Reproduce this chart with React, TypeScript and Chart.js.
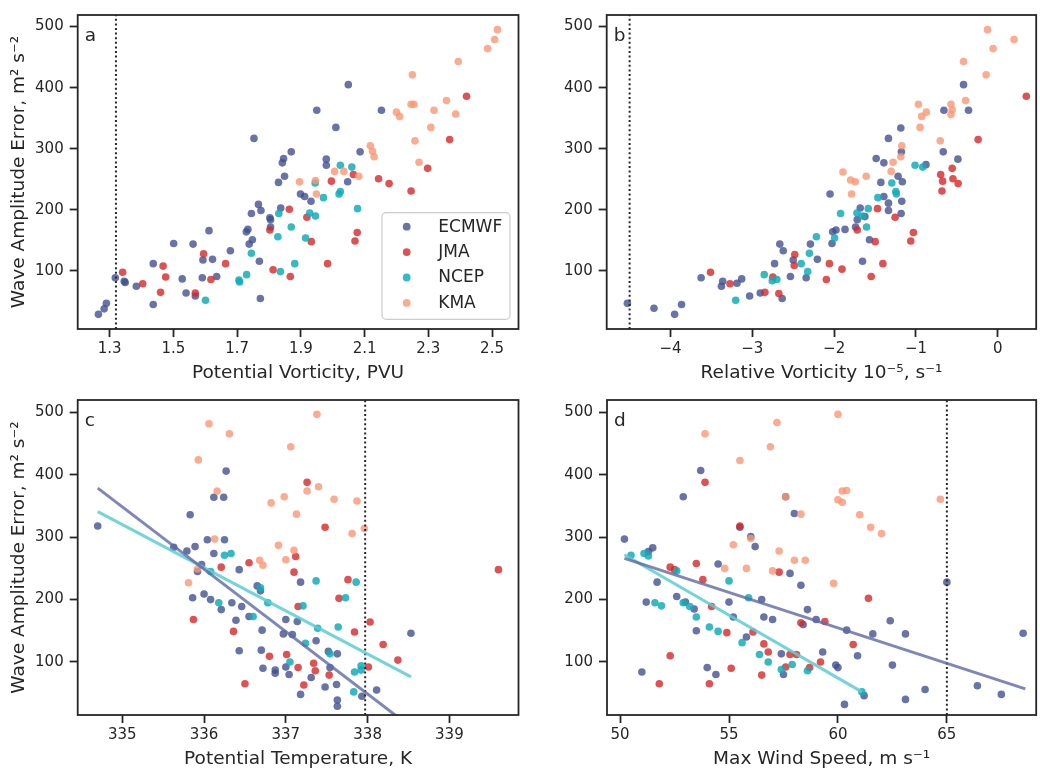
import React, { useEffect, useRef } from "react";
import { Chart, registerables } from "chart.js";
Chart.register(...registerables);

type Pt = [number, number];

const FONT = "'DejaVu Sans', 'Liberation Sans', sans-serif";
const INK = "#262626";

const MODELS = ["ECMWF", "JMA", "NCEP", "KMA"];
const COLORS = ["rgba(62,77,142,0.78)", "rgba(214,39,40,0.8)", "rgba(18,173,185,0.85)", "rgba(250,150,115,0.8)"];
const FIT_COLORS = ["rgba(95,105,165,0.8)", "rgba(90,205,212,0.85)"];

const yTicks = [100, 200, 300, 400, 500];
const pvTicks = [1.3, 1.5, 1.7, 1.9, 2.1, 2.3, 2.5];
const rvTicks = [-4, -3, -2, -1, 0];
const ptTicks = [335, 336, 337, 338, 339];
const wsTicks = [50, 55, 60, 65];

// Panel a: potential vorticity (PVU) vs wave amplitude error
const pvEcmwf: Pt[] = [[1.265,29],[1.283,38],[1.29,47],[1.318,89],[1.346,83],[1.349,81],[1.384,75],[1.437,112],[1.437,45],[1.501,145],[1.528,87],[1.54,64],[1.562,144],[1.569,59],[1.593,118],[1.591,89],[1.612,166],[1.623,119],[1.636,91],[1.679,133],[1.729,164],[1.734,168],[1.738,144],[1.748,151],[1.745,194],[1.767,209],[1.775,199],[1.77,116],[1.773,55],[1.803,187],[1.805,184],[1.805,172],[1.837,203],[1.83,245],[1.849,255],[1.842,277],[1.846,284],[1.87,295],[1.753,317],[1.95,363],[1.899,226],[1.912,222],[1.932,214],[1.98,283],[1.98,273],[2.01,335],[2.049,405],[2.086,295],[2.047,246],[2.153,363]];
const pvJma: Pt[] = [[1.341,98],[1.404,79],[1.468,108],[1.476,90],[1.46,65],[1.569,64],[1.595,128],[1.618,86],[1.664,112],[1.803,167],[1.813,102],[1.864,201],[1.867,91],[1.919,188],[1.933,148],[1.984,112],[1.996,247],[2.065,258],[2.144,251],[2.177,243],[2.246,231],[2.298,268],[2.367,315],[2.42,386],[2.077,163],[2.07,149]];
const pvNcep: Pt[] = [[1.601,52],[1.706,85],[1.708,82],[1.73,94],[1.745,129],[1.831,194],[1.828,156],[1.836,99],[1.87,172],[1.881,112],[1.945,244],[1.971,220],[1.928,195],[1.946,190],[1.915,154],[2.024,273],[2.06,270],[2.024,230],[2.02,226],[2.078,202]];
const pvKma: Pt[] = [[1.896,246],[1.946,248],[1.949,226],[2.517,495],[2.508,479],[2.486,464],[2.394,443],[2.25,421],[2.246,373],[2.255,373],[2.2,360],[2.21,353],[2.318,363],[2.357,379],[2.386,357],[2.308,335],[2.258,313],[2.118,305],[2.125,296],[2.13,287],[2.271,278],[2.006,263],[2.035,263],[2.082,255]];

// Panel b: relative vorticity
const rvEcmwf: Pt[] = [[-0.418,405],[-0.658,363],[-0.357,363],[-1.185,334],[-1.336,317],[-1.178,295],[-0.666,295],[-1.486,284],[-1.392,277],[-0.487,283],[-0.877,274],[-1.218,255],[-1.166,246],[-1.429,245],[-2.05,226],[-1.392,222],[-1.336,211],[-1.173,214],[-1.336,199],[-1.681,203],[-1.624,189],[-1.717,184],[-1.738,172],[-1.181,194],[-1.867,168],[-1.977,167],[-2.018,164],[-2.026,145],[-2.29,144],[-2.205,119],[-2.342,89],[-1.568,151],[-1.653,116],[-4.527,47],[-4.202,39],[-3.95,29],[-3.865,45],[-3.626,89],[-3.362,83],[-3.378,75],[-3.188,80],[-3.13,87],[-3.033,59],[-2.903,64],[-2.635,55],[-2.534,91],[-2.728,112],[-2.5,118],[-2.664,144],[-2.622,133]];
const rvJma: Pt[] = [[0.349,386],[-0.24,315],[-0.557,268],[-0.698,258],[-0.548,251],[-0.674,247],[-0.484,243],[-0.682,231],[-1.47,202],[-1.255,188],[-1.717,167],[-1.031,163],[-1.063,149],[-2.058,112],[-1.904,103],[-2.095,86],[-1.498,148],[-1.404,112],[-1.547,91],[-3.511,98],[-3.273,79],[-2.846,65],[-2.676,63],[-2.749,90],[-2.488,109],[-2.481,127]];
const rvNcep: Pt[] = [[-1.011,273],[-0.917,270],[-1.295,244],[-1.246,230],[-1.239,226],[-1.465,220],[-1.583,202],[-1.921,194],[-1.721,195],[-1.653,190],[-1.604,172],[-1.994,154],[-2.217,156],[-2.302,129],[-2.403,112],[-2.323,99],[-3.203,52],[-2.854,94],[-2.756,84],[-2.7,86]];
const rvKma: Pt[] = [[-0.125,495],[0.199,479],[-0.057,464],[-0.418,443],[-0.142,421],[-0.97,373],[-0.572,373],[-0.557,364],[-0.572,356],[-0.873,360],[-0.93,353],[-0.393,379],[-0.95,335],[-0.703,313],[-1.173,305],[-1.185,287],[-1.279,278],[-1.892,262],[-1.303,263],[-1.799,249],[-1.742,246],[-1.608,255],[-1.787,226]];

// Panel c: potential temperature
const ptEcmwf: Pt[] = [[334.7,318],[336.27,406],[336.12,364],[336.24,364],[335.83,336],[336.04,296],[336.25,296],[335.63,284],[335.79,278],[335.89,285],[336.12,274],[335.97,256],[335.92,245],[336.43,248],[337.18,228],[335.86,203],[336.0,209],[336.08,200],[336.21,184],[336.34,195],[336.46,189],[336.39,167],[336.55,173],[336.65,222],[336.69,214],[336.71,151],[336.43,118],[336.7,119],[336.72,90],[336.87,87],[336.87,82],[337.0,168],[336.97,145],[337.08,144],[337.0,92],[337.04,80],[337.18,48],[337.14,165],[338.53,146],[337.37,134],[337.52,117],[337.63,113],[337.54,91],[337.31,75],[337.48,60],[337.62,64],[337.63,39],[337.63,29],[337.93,45],[338.11,55]];
const ptJma: Pt[] = [[336.21,252],[336.55,259],[337.26,388],[337.48,316],[337.12,269],[337.1,244],[339.6,248],[337.76,232],[335.87,168],[336.36,149],[336.8,109],[336.5,65],[337.01,112],[337.15,91],[337.65,202],[337.15,189],[338.03,164],[337.84,148],[338.19,128],[338.37,103],[337.34,98],[337.36,86],[337.53,79],[338.01,92],[337.22,63]];
const ptNcep: Pt[] = [[336.25,271],[336.33,274],[336.08,245],[337.37,230],[337.86,228],[336.18,195],[336.6,173],[336.69,219],[336.78,195],[337.05,100],[337.73,203],[337.21,190],[337.39,154],[337.64,156],[337.24,130],[337.54,113],[337.92,94],[337.84,84],[337.92,87],[337.83,52]];
const ptKma: Pt[] = [[336.06,482],[336.31,466],[335.93,424],[336.16,374],[336.13,297],[335.92,249],[336.68,263],[337.38,497],[337.06,445],[337.26,374],[337.4,381],[336.98,365],[336.82,355],[337.59,361],[337.87,358],[337.13,337],[337.81,306],[337.96,314],[336.91,287],[337.1,279],[337.0,264],[336.72,255],[335.81,227]];
const ptFitEcmwf: Pt[] = [[334.7,378.7],[338.53,-4.3]];
const ptFitNcep: Pt[] = [[334.7,341],[338.53,76]];

// Panel d: max wind speed
const wsEcmwf: Pt[] = [[50.2,297],[51.0,84],[51.2,196],[51.3,277],[51.5,283],[52.9,365],[53.7,407],[51.7,228],[52.6,205],[53.0,196],[53.4,185],[54.0,91],[54.4,80],[54.5,257],[55.2,172],[55.5,316],[55.8,140],[56.0,301],[56.2,285],[56.6,172],[57.0,168],[57.4,113],[57.6,365],[58.0,338],[57.8,242],[58.3,223],[58.4,160],[58.6,184],[59.0,168],[59.3,116],[59.9,95],[60.0,91],[60.3,32],[60.4,151],[60.9,110],[61.2,46],[61.6,145],[62.4,166],[62.5,95],[63.1,40],[63.1,145],[64.0,56],[65.0,228],[66.4,62],[67.5,48],[68.5,146],[55.0,196],[56.5,200],[53.5,150],[57.5,80]];
const wsJma: Pt[] = [[53.9,388],[55.5,318],[52.3,252],[52.5,248],[53.5,258],[54.2,189],[54.9,147],[56.1,148],[56.6,129],[56.8,116],[57.6,92],[57.8,112],[58.1,112],[58.3,163],[59.4,165],[60.7,128],[61.4,202],[51.8,65],[52.3,110],[54.1,65],[55.1,90],[56.5,79],[57.3,244],[58.7,91],[59.2,100],[53.8,232]];
const wsNcep: Pt[] = [[50.5,271],[51.1,274],[51.3,270],[51.6,195],[51.9,190],[52.6,246],[52.9,195],[53.2,189],[53.5,172],[54.1,156],[54.5,149],[55.0,230],[55.6,131],[55.9,203],[56.4,112],[56.8,100],[57.4,88],[57.9,96],[58.6,86],[61.1,52]];
const wsKma: Pt[] = [[60.0,497],[57.2,484],[53.9,466],[56.9,445],[55.5,423],[60.4,375],[60.2,374],[60.0,360],[60.2,356],[57.6,365],[58.3,337],[61.0,336],[61.5,316],[62.0,306],[64.7,361],[56.0,298],[55.2,288],[57.3,278],[58.0,263],[58.5,263],[55.8,250],[54.8,250],[59.8,226],[57.0,246]];
const wsFitEcmwf: Pt[] = [[50.2,266],[68.6,57]];
const wsFitNcep: Pt[] = [[50.2,272],[61.1,52]];

const Y_TITLE = "Wave Amplitude Error, m² s⁻²";

interface PanelSpec {
  left: number; top: number; width: number; height: number;
  area: { l: number; t: number; r: number; b: number };
  xMin: number; xMax: number; yMin: number; yMax: number;
  xTicks: number[]; xFmt: (v: number) => string;
  xTitle: string; letter: string; yTitle: boolean; legend: boolean;
  series: Pt[][]; vline: number; fits: Pt[][];
}

const minus = (v: number) => (v < 0 ? "\u2212" + Math.abs(v) : String(v));

const PANELS: PanelSpec[] = [
  {
    left: 0, top: 0, width: 530, height: 385,
    area: { l: 77.7, t: 6, r: 518.5, b: 329 },
    xMin: 1.2, xMax: 2.583, yMin: 5, yMax: 519,
    xTicks: pvTicks, xFmt: (v) => v.toFixed(1),
    xTitle: "Potential Vorticity, PVU", letter: "a", yTitle: true, legend: true,
    series: [pvEcmwf, pvJma, pvNcep, pvKma], vline: 1.32, fits: [],
  },
  {
    left: 530, top: 0, width: 510, height: 385,
    area: { l: 76.7, t: 6, r: 507.5, b: 329 },
    xMin: -4.78, xMax: 0.47, yMin: 5, yMax: 519,
    xTicks: rvTicks, xFmt: minus,
    xTitle: "Relative Vorticity 10⁻⁵, s⁻¹", letter: "b", yTitle: false, legend: false,
    series: [rvEcmwf, rvJma, rvNcep, rvKma], vline: -4.5, fits: [],
  },
  {
    left: 0, top: 385, width: 530, height: 387,
    area: { l: 77.7, t: 8.3, r: 518.5, b: 330 },
    xMin: 334.455, xMax: 339.845, yMin: 15, yMax: 520,
    xTicks: ptTicks, xFmt: (v) => String(v),
    xTitle: "Potential Temperature, K", letter: "c", yTitle: true, legend: false,
    series: [ptEcmwf, ptJma, ptNcep, ptKma], vline: 337.97, fits: [ptFitEcmwf, ptFitNcep],
  },
  {
    left: 530, top: 385, width: 510, height: 387,
    area: { l: 77, t: 8.3, r: 507.5, b: 330 },
    xMin: 49.4, xMax: 69.1, yMin: 15, yMax: 520,
    xTicks: wsTicks, xFmt: (v) => String(v),
    xTitle: "Max Wind Speed, m s⁻¹", letter: "d", yTitle: false, legend: false,
    series: [wsEcmwf, wsJma, wsNcep, wsKma], vline: 65, fits: [wsFitEcmwf, wsFitNcep],
  },
];

function makeDecor(spec: PanelSpec) {
  return {
    id: "decor" + spec.letter,
    afterDraw(chart: any) {
      const { ctx, chartArea } = chart;
      const { left: l, top: t, right: r, bottom: b } = chartArea;
      ctx.save();
      ctx.strokeStyle = INK;
      ctx.lineWidth = 1.8;
      ctx.strokeRect(l, t, r - l, b - t);
      ctx.fillStyle = INK;
      ctx.font = `18.5px ${FONT}`;
      ctx.textAlign = "left";
      ctx.textBaseline = "alphabetic";
      ctx.fillText(spec.letter, l + 7, t + 25.5);
      ctx.textAlign = "center";
      ctx.fillText(spec.xTitle, (l + r) / 2, b + 49);
      if (spec.yTitle) {
        ctx.save();
        ctx.translate(l - 53.7, (t + b) / 2);
        ctx.rotate(-Math.PI / 2);
        ctx.textAlign = "center";
        ctx.fillText(Y_TITLE, 0, 0);
        ctx.restore();
      }
      if (spec.legend) {
        const bx = r - 136.5, by = b - 116.3, bw = 128, bh = 106.6;
        ctx.beginPath();
        const rad = 4;
        ctx.moveTo(bx + rad, by);
        ctx.arcTo(bx + bw, by, bx + bw, by + bh, rad);
        ctx.arcTo(bx + bw, by + bh, bx, by + bh, rad);
        ctx.arcTo(bx, by + bh, bx, by, rad);
        ctx.arcTo(bx, by, bx + bw, by, rad);
        ctx.closePath();
        ctx.fillStyle = "rgba(255,255,255,0.85)";
        ctx.fill();
        ctx.strokeStyle = "#cccccc";
        ctx.lineWidth = 1.2;
        ctx.stroke();
        ctx.font = `17px ${FONT}`;
        ctx.textAlign = "left";
        ctx.textBaseline = "middle";
        MODELS.forEach((m, i) => {
          const cy = by + 14 + i * 25.4;
          ctx.beginPath();
          ctx.arc(bx + 24.7, cy, 3.9, 0, Math.PI * 2);
          ctx.fillStyle = COLORS[i];
          ctx.fill();
          ctx.fillStyle = INK;
          ctx.fillText(m, bx + 56.3, cy + 0.5);
        });
      }
      ctx.restore();
    },
  };
}

function Panel({ spec }: { spec: PanelSpec }) {
  const ref = useRef<HTMLCanvasElement>(null);
  useEffect(() => {
    const canvas = ref.current!;
    const datasets: any[] = [];
    spec.fits.forEach((f, i) => {
      datasets.push({
        type: "line",
        data: f.map(([x, y]) => ({ x, y })),
        borderColor: FIT_COLORS[i],
        borderWidth: 3,
        pointRadius: 0,
        fill: false,
        order: 0,
      });
    });
    datasets.push({
      type: "line",
      data: [{ x: spec.vline, y: spec.yMin }, { x: spec.vline, y: spec.yMax }],
      borderColor: INK,
      borderWidth: 2,
      borderDash: [2, 2.6],
      pointRadius: 0,
      fill: false,
      order: 0,
    });
    spec.series.forEach((pts, i) => {
      datasets.push({
        type: "scatter",
        label: MODELS[i],
        data: pts.map(([x, y]) => ({ x, y })),
        backgroundColor: COLORS[i],
        borderWidth: 0,
        pointRadius: 3.8,
        pointHoverRadius: 3.8,
        order: 4 - i,
      });
    });
    const tickFont = { family: FONT, size: 15 };
    const chart = new Chart(canvas, {
      type: "scatter",
      data: { datasets },
      options: {
        animation: false,
        responsive: false,
        maintainAspectRatio: false,
        events: [],
        layout: { padding: { left: 0, top: spec.area.t, right: spec.width - spec.area.r, bottom: 0 } },
        plugins: { legend: { display: false }, tooltip: { enabled: false } },
        scales: {
          x: {
            type: "linear",
            min: spec.xMin,
            max: spec.xMax,
            afterBuildTicks: (s: any) => { s.ticks = spec.xTicks.map((v) => ({ value: v })); },
            afterFit: (s: any) => { s.height = spec.height - spec.area.b; },
            grid: { display: true, drawOnChartArea: false, drawTicks: true, tickLength: 8, tickWidth: 1.8, tickColor: INK },
            border: { display: false },
            ticks: { font: tickFont, color: INK, padding: 3.5, maxRotation: 0, autoSkip: false, callback: (v: any) => spec.xFmt(Number(v)) },
          },
          y: {
            type: "linear",
            min: spec.yMin,
            max: spec.yMax,
            afterBuildTicks: (s: any) => { s.ticks = yTicks.map((v) => ({ value: v })); },
            afterFit: (s: any) => { s.width = spec.area.l; },
            grid: { display: true, drawOnChartArea: false, drawTicks: true, tickLength: 8, tickWidth: 1.8, tickColor: INK },
            border: { display: false },
            ticks: { font: tickFont, color: INK, padding: 6, autoSkip: false, callback: (v: any) => String(v) },
          },
        },
      } as any,
      plugins: [makeDecor(spec)],
    });
    return () => chart.destroy();
  }, [spec]);
  return (
    <canvas
      ref={ref}
      width={spec.width}
      height={spec.height}
      style={{ position: "absolute", left: spec.left, top: spec.top, width: spec.width, height: spec.height }}
    />
  );
}

export default function App() {
  return (
    <div style={{ position: "absolute", left: 0, top: 0, width: 1040, height: 772, background: "#fff", overflow: "hidden" }}>
      {PANELS.map((p) => (
        <Panel key={p.letter} spec={p} />
      ))}
    </div>
  );
}
